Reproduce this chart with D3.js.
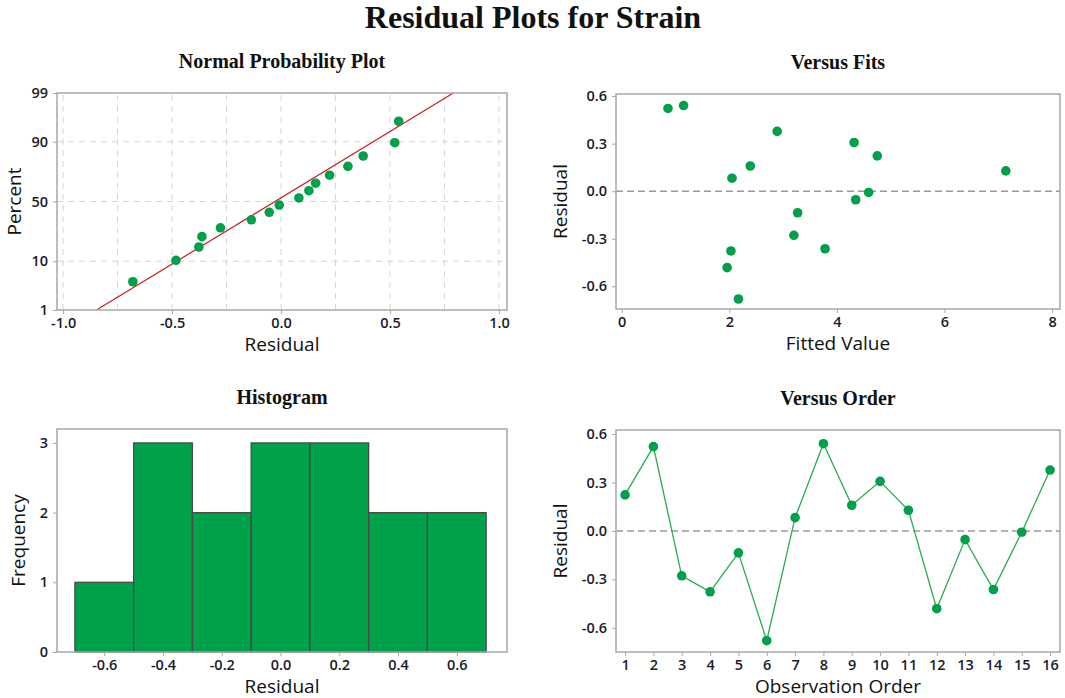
<!DOCTYPE html>
<html>
<head>
<meta charset="utf-8">
<script src="https://cdn.jsdelivr.net/npm/d3@7"></script>
<style>
  body { margin: 0; background: #fff; }
  svg { display: block; }
</style>
</head>
<body>
<svg id="chart" width="1065" height="698"></svg>
<script>
// Residuals in observation order
const observations = [1, 2, 3, 4, 5, 6, 7, 8, 9, 10, 11, 12, 13, 14, 15, 16];
const residuals = [0.223, 0.522, -0.278, -0.377, -0.136, -0.68, 0.082, 0.54,
  0.159, 0.307, 0.128, -0.482, -0.054, -0.363, -0.008, 0.377];
// Fitted value for each observation (Versus Fits panel)
const fittedValues = [4.75, 0.86, 3.2, 2.03, 3.27, 2.17, 2.05, 1.15,
  2.39, 4.32, 7.14, 1.96, 4.35, 3.78, 4.59, 2.89];

// Histogram bins
const binStarts = [-0.7, -0.5, -0.3, -0.1, 0.1, 0.3, 0.5];
const binEnds = [-0.5, -0.3, -0.1, 0.1, 0.3, 0.5, 0.7];
const binCounts = [1, 3, 2, 3, 3, 2, 2];

// Fitted normal line of the probability plot
const fitMean = -0.028;
const fitSd = 0.352;

// Tick labels
const percentTicks = [1, 10, 50, 90, 99];
const probXTicks = [-1.0, -0.5, 0.0, 0.5, 1.0];
const probXGrid = [-1.0, -0.75, -0.5, -0.25, 0.0, 0.25, 0.5, 0.75, 1.0];
const residTicks = [-0.6, -0.3, 0.0, 0.3, 0.6];
const fitTicks = [0, 2, 4, 6, 8];
const histXTicks = [-0.6, -0.4, -0.2, 0.0, 0.2, 0.4, 0.6];
const freqTicks = [0, 1, 2, 3];

const GREEN = "#00a04b";
const LINE_GREEN = "#27ad52";
const RED = "#c82020";
const FRAME = "#a8a8a8";
const SANS = "'Open Sans', 'Noto Sans', sans-serif";
const SERIF = "'Liberation Serif', 'DejaVu Serif', serif";

const svg = d3.select("#chart");

// plain hyphen for negatives, like the original
const locale = d3.formatLocale({ decimal: ".", thousands: ",", grouping: [3],
  currency: ["", ""], minus: "-" });
const fmt1 = locale.format(".1f");
const fmt0 = locale.format("d");

/** inverse standard normal CDF (Acklam) */
function qnorm(p) {
  const a = [-39.69683028665376, 220.9460984245205, -275.9285104469687,
    138.357751867269, -30.66479806614716, 2.506628277459239];
  const b = [-54.47609879822406, 161.5858368580409, -155.6989798598866,
    66.80131188771972, -13.28068155288572];
  const c = [-0.007784894002430293, -0.3223964580411365, -2.400758277161838,
    -2.549732539343734, 4.374664141464968, 2.938163982698783];
  const d = [0.007784695709041462, 0.3224671290700398, 2.445134137142996,
    3.754408661907416];
  const pl = 0.02425;
  let q, r;
  if (p < pl) {
    q = Math.sqrt(-2 * Math.log(p));
    return (((((c[0] * q + c[1]) * q + c[2]) * q + c[3]) * q + c[4]) * q + c[5]) /
      ((((d[0] * q + d[1]) * q + d[2]) * q + d[3]) * q + 1);
  }
  if (p > 1 - pl) {
    q = Math.sqrt(-2 * Math.log(1 - p));
    return -(((((c[0] * q + c[1]) * q + c[2]) * q + c[3]) * q + c[4]) * q + c[5]) /
      ((((d[0] * q + d[1]) * q + d[2]) * q + d[3]) * q + 1);
  }
  q = p - 0.5;
  r = q * q;
  return (((((a[0] * r + a[1]) * r + a[2]) * r + a[3]) * r + a[4]) * r + a[5]) * q /
    (((((b[0] * r + b[1]) * r + b[2]) * r + b[3]) * r + b[4]) * r + 1);
}

// Main title
svg.append("text")
  .attr("x", 533).attr("y", 28)
  .attr("text-anchor", "middle")
  .attr("font-family", SERIF).attr("font-weight", 700).attr("font-size", 32)
  .attr("fill", "#111")
  .text("Residual Plots for Strain");

/** Frame + scales + axes for one panel */
function panel(opt) {
  const { left, right, top, bottom, xDomain, yDomain, xTicks, yTicks,
    xFmt, yFmt, title, xLabel, yLabel, yLabelX } = opt;
  const x = d3.scaleLinear().domain(xDomain).range([left, right]);
  const y = d3.scaleLinear().domain(yDomain).range([bottom, top]);
  const g = svg.append("g");

  svg.append("text")
    .attr("x", (left + right) / 2).attr("y", top - 25)
    .attr("text-anchor", "middle")
    .attr("font-family", SERIF).attr("font-weight", 700).attr("font-size", 20)
    .attr("fill", "#111")
    .text(title);

  const gx = svg.append("g")
    .attr("transform", `translate(0,${bottom})`)
    .call(d3.axisBottom(x).tickValues(xTicks).tickFormat(xFmt)
      .tickSize(4).tickPadding(4));
  const gy = svg.append("g")
    .attr("transform", `translate(${left},0)`)
    .call(d3.axisLeft(y).tickValues(yTicks.map(opt.yMap || ((v) => v)))
      .tickFormat((v, i) => yFmt(yTicks[i]))
      .tickSize(4).tickPadding(5));
  [gx, gy].forEach((a) => {
    a.select(".domain").remove();
    a.selectAll(".tick line").attr("stroke", FRAME);
    a.selectAll(".tick text")
      .attr("font-family", SANS).attr("font-weight", 600)
      .attr("font-size", 14.5).attr("fill", "#1a1a2a");
  });

  svg.append("text")
    .attr("x", (left + right) / 2).attr("y", bottom + 41)
    .attr("text-anchor", "middle")
    .attr("font-family", SANS).attr("font-size", 19).attr("fill", "#111")
    .text(xLabel);
  svg.append("text")
    .attr("transform", `translate(${yLabelX},${(top + bottom) / 2}) rotate(-90)`)
    .attr("text-anchor", "middle")
    .attr("font-family", SANS).attr("font-size", 19).attr("fill", "#111")
    .text(yLabel);

  const frame = () => svg.append("rect")
    .attr("x", left).attr("y", top)
    .attr("width", right - left).attr("height", bottom - top)
    .attr("fill", "none").attr("stroke", FRAME).attr("stroke-width", 1.5);
  return { g, x, y, frame };
}

// ---------- Normal Probability Plot ----------
{
  const zTop = qnorm(0.99);
  const p = panel({
    left: 57, right: 507, top: 93, bottom: 310,
    xDomain: [-1.028, 1.037], yDomain: [-zTop, zTop],
    xTicks: probXTicks, yTicks: percentTicks,
    yMap: (v) => qnorm(v / 100),
    xFmt: fmt1, yFmt: fmt0,
    title: "Normal Probability Plot", xLabel: "Residual", yLabel: "Percent",
    yLabelX: 21,
  });
  const { g, x, y } = p;
  g.selectAll("line.vg").data(probXGrid).join("line")
    .attr("x1", (d) => x(d)).attr("x2", (d) => x(d))
    .attr("y1", y(-zTop)).attr("y2", y(zTop))
    .attr("stroke", "#d6d6d6").attr("stroke-dasharray", "6,5");
  g.selectAll("line.hg").data(percentTicks.slice(1, -1)).join("line")
    .attr("x1", x.range()[0]).attr("x2", x.range()[1])
    .attr("y1", (d) => y(qnorm(d / 100))).attr("y2", (d) => y(qnorm(d / 100)))
    .attr("stroke", "#d6d6d6").attr("stroke-dasharray", "6,5");

  g.append("line")
    .attr("x1", x(fitMean - fitSd * zTop)).attr("y1", y(-zTop))
    .attr("x2", x(fitMean + fitSd * zTop)).attr("y2", y(zTop))
    .attr("stroke", RED).attr("stroke-width", 1.2);

  // Benard median-rank plotting positions
  const sorted = residuals.slice().sort(d3.ascending);
  const n = sorted.length;
  g.selectAll("circle").data(sorted).join("circle")
    .attr("cx", (d) => x(d))
    .attr("cy", (d, i) => y(qnorm((i + 1 - 0.3) / (n + 0.4))))
    .attr("r", 4.8).attr("fill", GREEN);
  p.frame();
}

// ---------- Versus Fits ----------
{
  const p = panel({
    left: 616, right: 1060, top: 94, bottom: 309,
    xDomain: [-0.106, 8.147], yDomain: [-0.743, 0.613],
    xTicks: fitTicks, yTicks: residTicks,
    xFmt: fmt0, yFmt: fmt1,
    title: "Versus Fits", xLabel: "Fitted Value", yLabel: "Residual",
    yLabelX: 567,
  });
  const { g, x, y } = p;
  g.append("line")
    .attr("x1", x.range()[0]).attr("x2", x.range()[1])
    .attr("y1", y(0)).attr("y2", y(0))
    .attr("stroke", "#9a9a9a").attr("stroke-width", 1.5)
    .attr("stroke-dasharray", "7,4");
  g.selectAll("circle").data(residuals).join("circle")
    .attr("cx", (d, i) => x(fittedValues[i]))
    .attr("cy", (d) => y(d))
    .attr("r", 4.8).attr("fill", GREEN);
  p.frame();
}

// ---------- Histogram ----------
{
  const p = panel({
    left: 57, right: 507, top: 429, bottom: 652,
    xDomain: [-0.761, 0.771], yDomain: [0, 3.2],
    xTicks: histXTicks, yTicks: freqTicks,
    xFmt: fmt1, yFmt: fmt0,
    title: "Histogram", xLabel: "Residual", yLabel: "Frequency",
    yLabelX: 25,
  });
  const { g, x, y } = p;
  g.selectAll("rect").data(binCounts).join("rect")
    .attr("x", (d, i) => x(binStarts[i]))
    .attr("width", (d, i) => x(binEnds[i]) - x(binStarts[i]))
    .attr("y", (d) => y(d))
    .attr("height", (d) => y(0) - y(d))
    .attr("fill", "#00a14b").attr("stroke", "#4a4a4a").attr("stroke-width", 1.3);
  p.frame();
}

// ---------- Versus Order ----------
{
  const p = panel({
    left: 616, right: 1060, top: 430, bottom: 652,
    xDomain: [0.68, 16.35], yDomain: [-0.75, 0.625],
    xTicks: observations, yTicks: residTicks,
    xFmt: fmt0, yFmt: fmt1,
    title: "Versus Order", xLabel: "Observation Order", yLabel: "Residual",
    yLabelX: 567,
  });
  const { g, x, y } = p;
  g.append("line")
    .attr("x1", x.range()[0]).attr("x2", x.range()[1])
    .attr("y1", y(0)).attr("y2", y(0))
    .attr("stroke", "#9a9a9a").attr("stroke-width", 1.5)
    .attr("stroke-dasharray", "7,4");
  const line = d3.line()
    .x((d, i) => x(observations[i]))
    .y((d) => y(d));
  g.append("path").datum(residuals)
    .attr("d", line)
    .attr("fill", "none").attr("stroke", LINE_GREEN).attr("stroke-width", 1.3);
  g.selectAll("circle").data(residuals).join("circle")
    .attr("cx", (d, i) => x(observations[i]))
    .attr("cy", (d) => y(d))
    .attr("r", 4.8).attr("fill", GREEN);
  p.frame();
}
</script>
</body>
</html>
